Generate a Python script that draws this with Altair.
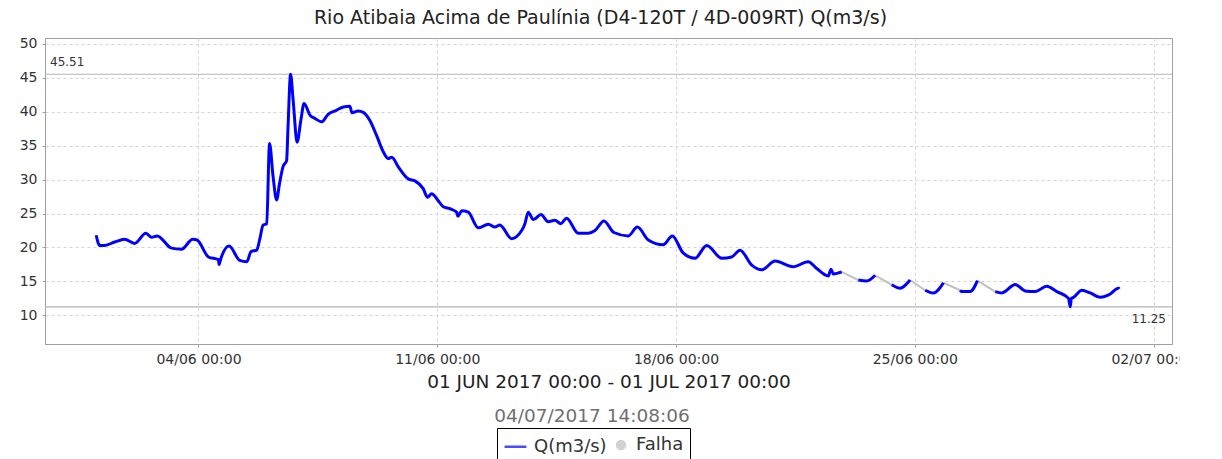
import altair as alt
import pandas as pd

titulo = "Rio Atibaia Acima de Paulínia (D4-120T / 4D-009RT) Q(m3/s)"
periodo = "01 JUN 2017 00:00 - 01 JUL 2017 00:00"
gerado = "04/07/2017 14:08:06"
series = ["Q(m3/s)", "Falha"]
cores = ["#0000ff", "#c0c0c0"]
inicio = pd.Timestamp("2017-06-01T00:00:00")

# Measured flow: hours since 01/06/2017 00:00 and Q (m3/s)
horas_q = [
    0, 2.5, 6, 13, 20, 27, 35, 39, 43, 53,
    60, 68, 71, 79, 86, 86.5, 87.5, 93.5, 101, 106,
    109, 113, 115, 117.5, 120, 122, 124.5, 127, 129, 131.5,
    134, 135, 136.8, 138.6, 141.4, 144, 146.3, 150.4, 154, 158.6,
    163.2, 169, 174, 178.5, 180, 184.4, 188, 192.6, 197.3, 202,
    205.5, 208, 212.5, 219.6, 224.3, 230, 233.2, 236, 240.3, 244.2,
    249, 253.6, 254.5, 257.2, 261.8, 268.8, 276, 280.6, 284, 292.3,
    299.4, 301.7, 304, 307.6, 313, 318, 322.8, 327, 331, 339.2,
    346.3, 351, 357.3, 364.3, 374.4, 380.8, 388.5, 399, 405.4, 413,
    421.4, 429.6, 440.2, 447.2, 453, 461.3, 468.3, 477.7, 490.4, 501,
    507, 515.2, 517, 518.7, 524.6,
    536.3, 542.2, 548.1,
    559.8, 565.7, 572.7,
    583.3, 589.1, 596.2,
    607.9, 609.1, 615.0, 620.1,
    632.6, 637.3, 646.7, 653.7, 660.7, 668.9, 676.0, 684.2, 685.4, 686.2,
    687.7, 693.6, 699.5, 706.5, 712.4, 719.4, 720,
]
vazao_q = [
    21.8, 20.3, 20.3, 20.8, 21.2, 20.6, 22.1, 21.5, 21.7, 19.9,
    19.75, 21.2, 21.1, 18.6, 18.2, 17.5, 18.2, 20.2, 18.1, 17.9,
    19.4, 19.6, 21.1, 23.3, 23.5, 35.3, 30.4, 27.0, 29.4, 31.9,
    32.8, 37.7, 45.51, 41.7, 35.5, 38.7, 41.2, 39.5, 39.0, 38.5,
    39.6, 40.2, 40.7, 40.8, 39.85, 40.1, 39.9, 38.7, 36.5, 34.1,
    33.1, 33.3, 31.9, 30.1, 29.8, 28.7, 27.4, 27.9, 27.0, 26.0,
    25.7, 25.2, 24.6, 25.4, 25.2, 22.9, 23.4, 23.0, 23.3, 21.3,
    22.5, 23.5, 25.2, 24.1, 24.85, 23.8, 24.0, 23.5, 24.3, 22.1,
    22.1, 22.5, 23.9, 22.2, 21.7, 23.0, 21.1, 20.4, 21.7, 19.2,
    18.4, 20.3, 18.4, 18.6, 19.6, 17.4, 16.7, 18.0, 17.15, 17.9,
    16.9, 15.8, 16.8, 16.1, 16.4,
    15.2, 15.05, 15.9,
    14.5, 14.0, 15.2,
    13.7, 13.3, 14.8,
    13.7, 13.5, 13.5, 15.1,
    13.5, 13.3, 14.55, 13.6, 13.5, 14.3, 13.5, 12.5, 11.25, 12.5,
    12.65, 13.7, 13.3, 12.65, 13.0, 14.0, 13.9,
]
tamanhos_q = [105, 3, 3, 3, 4, 17]

# Failure gaps (drawn in grey), start/end of each gap
horas_f = [524.6, 536.3, 548.1, 559.8, 572.7, 583.3, 596.2, 607.9, 620.1, 632.6]
vazao_f = [16.4, 15.2, 15.9, 14.5, 15.2, 13.7, 14.8, 13.7, 15.1, 13.5]
tamanhos_f = [2, 2, 2, 2, 2]

maximo = 45.51
minimo = 11.25
ticks_y = [10, 15, 20, 25, 30, 35, 40, 45, 50]
dominio_y = [5.78, 50.85]

fonte = "DejaVu Sans"


def trechos(tamanhos):
    out = []
    for i, n in enumerate(tamanhos):
        out += [i] * n
    return out


df_q = pd.DataFrame({
    "tempo": inicio + pd.to_timedelta(horas_q, unit="h"),
    "vazao": vazao_q,
    "trecho": trechos(tamanhos_q),
})
df_f = pd.DataFrame({
    "tempo": inicio + pd.to_timedelta(horas_f, unit="h"),
    "vazao": vazao_f,
    "trecho": trechos(tamanhos_f),
})
df_ref = pd.DataFrame({"vazao": [maximo, minimo], "rotulo": [f"{maximo:.2f}", f"{minimo:.2f}"],
                       "tipo": ["max", "min"]})
df_leg = pd.DataFrame({"serie": series, "vazao": [maximo, minimo]})
df_ger = pd.DataFrame({"texto": [gerado]})

dominio_x = [alt.DateTime(year=2017, month=5, date=30, hours=12),
             alt.DateTime(year=2017, month=7, date=2, hours=13)]
ticks_x = [alt.DateTime(year=2017, month=6, date=d) for d in (4, 11, 18, 25)] + \
          [alt.DateTime(year=2017, month=7, date=2)]

X = alt.X("tempo:T", scale=alt.Scale(domain=dominio_x),
          axis=alt.Axis(values=ticks_x, format="%d/%m %H:%M", title=periodo,
                        labelFlush=False))
Y = alt.Y("vazao:Q", scale=alt.Scale(domain=dominio_y, nice=False, zero=False),
          axis=alt.Axis(values=ticks_y, title=None, labelOverlap=False))

regras = alt.Chart(df_ref).mark_rule(color="#b4b4b4", strokeWidth=1.2).encode(y=Y)

rot_max = alt.Chart(df_ref).transform_filter(alt.datum.tipo == "max").mark_text(
    align="left", baseline="alphabetic", dy=-8, font=fonte, fontSize=12, color="#333"
).encode(x=alt.value(5), y=Y, text="rotulo:N")

rot_min = alt.Chart(df_ref).transform_filter(alt.datum.tipo == "min").mark_text(
    align="right", baseline="top", dy=7, font=fonte, fontSize=12, color="#333"
).encode(x=alt.value(1121), y=Y, text="rotulo:N")

falhas = alt.Chart(df_f).mark_line(color=cores[1], strokeWidth=2).encode(
    x=X, y=Y, detail="trecho:N")

linha = alt.Chart(df_q).mark_line(color=cores[0], strokeWidth=3,
                                  interpolate="monotone").encode(
    x=X, y=Y, detail="trecho:N")

dom = alt.Scale(domain=series, range=cores)
legenda = alt.Chart(df_leg).transform_filter("false").mark_point(
    filled=True, strokeWidth=2.5
).encode(
    y=Y,
    color=alt.Color("serie:N", scale=dom, title=None,
                    legend=alt.Legend(orient="none", legendX=452, legendY=390,
                                      direction="horizontal", strokeColor="#000",
                                      fillColor="#ffffff", padding=6,
                                      labelFont=fonte, labelFontSize=18, labelColor="#333",
                                      labelOffset=6, columnPadding=5,
                                      symbolStrokeWidth=2.5)),
    stroke=alt.Stroke("serie:N", scale=dom, title=None),
    shape=alt.Shape("serie:N", scale=alt.Scale(domain=series, range=["stroke", "circle"]),
                    title=None),
    size=alt.Size("serie:N", scale=alt.Scale(domain=series, range=[480, 64]), title=None),
)

ger = alt.Chart(df_ger).mark_text(
    font=fonte, fontSize=18.5, color="#707070", align="center", baseline="alphabetic"
).encode(x=alt.value(547), y=alt.value(384), text="texto:N")

chart = alt.layer(regras, rot_max, rot_min, falhas, linha, legenda, ger).properties(
    width=1127, height=306,
    title=alt.TitleParams(text=titulo, font=fonte, fontSize=19, fontWeight="normal",
                          color="#222", anchor="middle", offset=9, dx=-8),
    autosize=alt.AutoSizeParams(type="none"),
    padding={"left": 37, "top": 30, "right": 8, "bottom": 130},
).configure_view(
    stroke="#a0a0a0", strokeWidth=1
).configure_axis(
    domainColor="#a0a0a0", tickColor="#a0a0a0", tickSize=3, labelPadding=5,
    gridColor="#d4d4d4", gridDash=[3, 3], gridWidth=1,
    labelFont=fonte, labelFontSize=14, labelColor="#333",
    titleFont=fonte, titleFontSize=18.5, titleFontWeight="normal", titleColor="#222",
    titlePadding=6,
).configure_legend(
    symbolType="circle"
)

chart.save("out.html", embed_options={"renderer": "svg", "actions": False})
